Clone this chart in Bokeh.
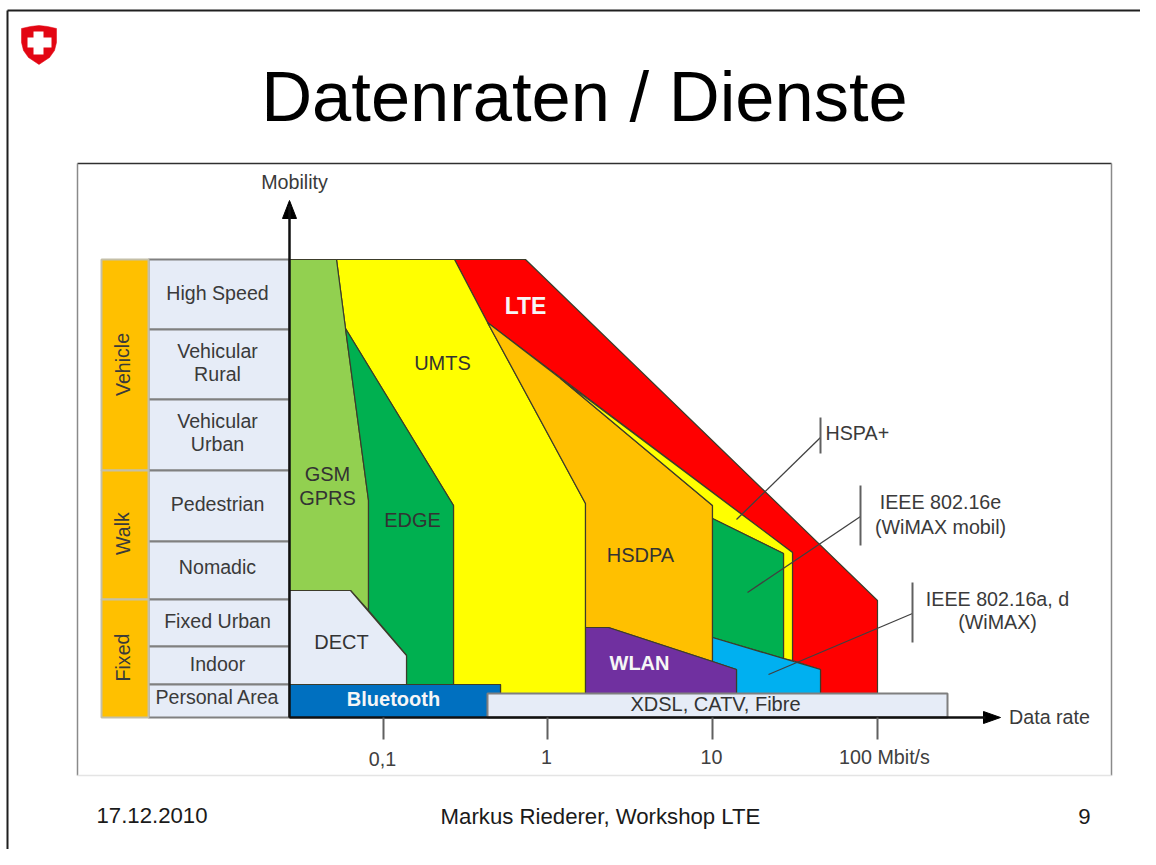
from bokeh.plotting import figure
from bokeh.models import Range1d, ColumnDataSource, FixedTicker, LinearAxis
from bokeh.core.properties import value
from bokeh.embed import file_html
from bokeh.resources import INLINE

FONT = "Liberation Sans"

# --- Regions of the diagram: outlines (reference pixel space)
lte_x = [454, 525, 877, 877, 820, 820, 792, 792, 487]
lte_y = [259, 259, 600, 693, 693, 669, 660, 552, 322]
umts_x = [336, 454, 487, 585, 585, 500, 500, 453, 453, 345]
umts_y = [259, 259, 322, 503, 693, 693, 684, 684, 505, 328]
hsdpa_x = [487, 560, 712, 712, 608, 585, 585]
hsdpa_y = [322, 378, 505, 661, 627, 627, 503]
hspa_x = [560, 792, 792, 783, 783, 712, 712]
hspa_y = [378, 552, 660, 658, 553, 518, 505]
wimax_m_x = [712, 783, 783, 712]
wimax_m_y = [518, 553, 658, 637]
wimax_x = [712, 820, 820, 736, 736, 712]
wimax_y = [637, 669, 693, 693, 669, 661]
wlan_x = [585, 608, 712, 736, 736, 585]
wlan_y = [627, 627, 661, 669, 693, 693]
gsm_x = [289, 336, 345, 368, 368, 350, 289]
gsm_y = [259, 259, 328, 500, 610, 590, 590]
edge_x = [345, 453, 453, 406, 406, 368, 368]
edge_y = [328, 505, 684, 684, 655, 610, 500]
dect_x = [289, 350, 406, 406, 289]
dect_y = [590, 590, 655, 684, 684]
bluetooth_x = [289, 500, 500, 487, 487, 289]
bluetooth_y = [684, 684, 693, 693, 717, 717]
xdsl_x = [487, 947, 947, 487]
xdsl_y = [693, 693, 717, 717]

regions = [
    (lte_x, lte_y, "#ff0000"), (umts_x, umts_y, "#ffff00"), (hsdpa_x, hsdpa_y, "#ffc000"),
    (hspa_x, hspa_y, "#ffff00"), (wimax_m_x, wimax_m_y, "#00b050"), (wimax_x, wimax_y, "#00b0f0"),
    (wlan_x, wlan_y, "#7030a0"), (gsm_x, gsm_y, "#92d050"), (edge_x, edge_y, "#00b050"),
    (dect_x, dect_y, "#e6ecf7"), (bluetooth_x, bluetooth_y, "#0070c0"),
]
region_labels = ["GSM", "GPRS", "EDGE", "UMTS", "HSDPA", "DECT", "XDSL, CATV, Fibre"]
region_label_x = [327, 327, 412, 442, 640, 341, 715]
region_label_y = [473, 497, 519, 362, 554, 641, 703]
white_labels = ["WLAN", "Bluetooth"]
white_label_x = [639, 393]
white_label_y = [662, 698]

# --- Mobility table on the left
row_names = ["High Speed", "Vehicular\nRural", "Vehicular\nUrban", "Pedestrian", "Nomadic",
             "Fixed Urban", "Indoor", "Personal Area"]
row_edges = [259, 329, 399, 470, 541, 599, 646, 684, 717]
row_label_y = [292, 362, 432, 503, 566, 620, 663, 696]
group_names = ["Vehicle", "Walk", "Fixed"]
group_edges = [259, 470, 599, 717]
group_label_y = [364, 533, 657]

# --- Axes
tick_positions = [383, 547, 712, 877]
tick_labels = ["0,1", "1", "10", "100 Mbit/s"]
tick_label_x = [382, 546, 711, 884]
tick_label_y = [758, 756, 756, 756]

# --- Annotations
callout_names = ["HSPA+", "IEEE 802.16e", "(WiMAX mobil)", "IEEE 802.16a, d", "(WiMAX)"]
callout_x = [825, 940, 940, 997, 997]
callout_y = [432, 501, 526, 598, 621]
callout_align = ["left", "center", "center", "center", "center"]
leader_x0 = [736, 747, 768]
leader_y0 = [519, 592, 674]
leader_x1 = [820, 860, 912]
leader_y1 = [437, 516, 613]
bar_top = [417, 485, 582]
bar_bottom = [453, 545, 642]

p = figure(width=1140, height=849, x_range=Range1d(0, 1140), y_range=Range1d(849, 0),
           output_backend="svg", toolbar_location=None, min_border=0,
           x_axis_type=None, y_axis_type=None)
p.outline_line_color = None
p.background_fill_color = "white"
p.grid.visible = False

# slide frame
p.segment([7, 7], [10, 10], [7, 1140], [849, 10], line_color="#1f1f1f", line_width=2)
# picture frame
p.segment([77, 77, 1111, 77], [163, 163, 163, 775], [1111, 77, 1111, 1111], [163, 775, 775, 775],
          line_color=["#303030", "#8a8a8a", "#8a8a8a", "#e4e4e4"], line_width=[1.5, 1.5, 1.5, 1.5])

# crest
shield_x = [21, 30, 38.5, 47, 56, 56, 54, 49, 38.5, 28, 23, 21]
shield_y = [28, 26, 25, 26, 28, 42, 50, 57, 64, 57, 50, 42]
p.patch(shield_x, shield_y, fill_color="#e30613", line_color="#e30613", line_width=0.5)
cross_x = [33, 43, 43, 51, 51, 43, 43, 33, 33, 27, 27, 33]
cross_y = [31, 31, 37, 37, 47, 47, 54, 54, 47, 47, 37, 37]
p.patch(cross_x, cross_y, fill_color="white", line_color=None)

# table
p.quad(left=[148] * 8, right=[289] * 8, top=row_edges[:-1], bottom=row_edges[1:],
       fill_color="#e6ecf7", line_color="#808080", line_width=2)
p.quad(left=[101] * 3, right=[148] * 3, top=group_edges[:-1], bottom=group_edges[1:],
       fill_color="#ffc000", line_color="#c4bfa8", line_width=2)

# regions
for rx, ry, color in regions:
    p.patch(rx, ry, fill_color=color, line_color="#3c3c2a", line_width=1.2)
p.patch(xdsl_x, xdsl_y, fill_color="#e6ecf7", line_color="#7f7f7f", line_width=2)

# leaders
p.segment(leader_x0, leader_y0, leader_x1, leader_y1, line_color="#404040", line_width=1.3)
p.segment(leader_x1, bar_top, leader_x1, bar_bottom, line_color="#606060", line_width=2)

# axes
xaxis = LinearAxis(ticker=FixedTicker(ticks=tick_positions),
                   major_label_overrides={t: "" for t in tick_positions},
                   fixed_location=717, bounds=(289, 985), axis_line_color="#101010", axis_line_width=2.5,
                   major_tick_in=0, major_tick_out=22, major_tick_line_color="#606060", major_tick_line_width=2,
                   minor_tick_line_color=None)
p.add_layout(xaxis, "below")
yaxis = LinearAxis(ticker=FixedTicker(ticks=[]), fixed_location=289, bounds=(205, 717),
                   axis_line_color="#101010", axis_line_width=2.5, major_tick_line_color=None,
                   minor_tick_line_color=None, major_label_text_color=None)
p.add_layout(yaxis, "left")
p.patch([983, 1000, 983], [711, 717, 723], fill_color="#000000", line_color="#000000")
p.patch([282, 289, 296], [218, 200, 218], fill_color="#000000", line_color="#000000")

def texts(xs, ys, labels, size, color="#333333", align="center", style="normal", angle=0.0):
    src = ColumnDataSource(dict(x=xs, y=ys, t=labels,
                                a=align if isinstance(align, list) else [align] * len(xs)))
    p.text("x", "y", "t", source=src, text_font=value(FONT), text_font_size=value(size), text_color=color,
           text_align={"field": "a"}, text_baseline="middle", text_font_style=style, angle=angle,
           text_line_height=1.05)

texts(region_label_x, region_label_y, region_labels, "20px")
texts(white_label_x, white_label_y, white_labels, "20px", color="#f6f6f6", style="bold")
texts([525], [305], ["LTE"], "23px", color="#f6f6f6", style="bold")
texts([217] * 8, row_label_y, row_names, "19.6px", color="#3a3a3a")
texts([122] * 3, group_label_y, group_names, "19.6px", color="#3a3a3a", angle=1.5708)
texts(callout_x, callout_y, callout_names, "19.7px", color="#3a3a3a", align=callout_align)
texts([294, 1049], [181, 716], ["Mobility", "Data rate"], "19.7px", color="#3a3a3a")
texts(tick_label_x, tick_label_y, tick_labels, "19.7px", color="#404040")

texts([584], [96], ["Datenraten / Dienste"], "70.5px", color="#000000")
texts([96, 600, 1084], [815, 816, 816], ["17.12.2010", "Markus Riederer, Workshop LTE", "9"], "22.2px",
      color="#1a1a1a", align=["left", "center", "center"])

open("out.html", "w").write(file_html(p, INLINE))
